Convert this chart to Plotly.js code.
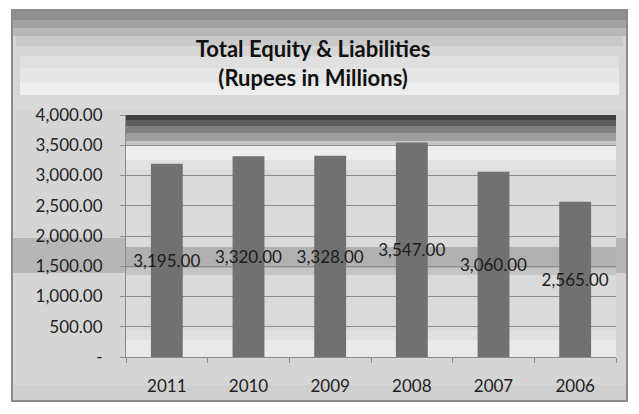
<!DOCTYPE html>
<html>
<head>
<meta charset="utf-8">
<script src="https://cdn.plot.ly/plotly-3.0.1.min.js"></script>
<style>html,body{margin:0;padding:0;background:#fff;}#chart{width:639px;height:414px;}</style>
</head>
<body>
<div id="chart"></div>
<script>
const years = ["2011", "2010", "2009", "2008", "2007", "2006"];
const totals = [3195, 3320, 3328, 3547, 3060, 2565];
const tickValues = [0, 500, 1000, 1500, 2000, 2500, 3000, 3500, 4000];
const tickLabels = ["-", "500.00", "1,000.00", "1,500.00", "2,000.00", "2,500.00", "3,000.00", "3,500.00", "4,000.00"];

// pixel helpers for decorative background bands (paper coordinates)
const L = 126, R = 616, T = 115, B = 357;
const px = v => (v - L) / (R - L);
const py = v => (B - v) / (B - T);
function band(x0, y0, x1, y1, color) {
  return {type: 'rect', xref: 'paper', yref: 'paper', layer: 'below',
    x0: px(x0), x1: px(x1), y0: py(y1), y1: py(y0), fillcolor: color, line: {width: 0}};
}
const shapes = [
  {type: 'rect', xref: 'paper', yref: 'paper', layer: 'below',
   x0: px(12), x1: px(627), y0: py(401), y1: py(10), fillcolor: '#d5d5d5', line: {color: '#8a8a8a', width: 2}},
  band(13, 11, 626, 20, '#8f8f8f'),
  band(13, 20, 626, 28, '#a3a3a3'),
  band(13, 28, 626, 36, '#b8b8b8'),
  band(16, 36, 623, 46, '#c9c9c9'),
  band(18, 46, 621, 56, '#d6d6d6'),
  band(20, 56, 619, 68, '#dfdfdf'),
  band(20, 68, 619, 82, '#e6e6e6'),
  band(20, 82, 619, 95, '#ededed'),
  band(13, 95, 626, 110, '#d9d9d9'),
  band(13, 238, 626, 273, '#b6b6b6'),
  band(13, 385, 626, 400, '#cfcfcf'),
  // plot area background
  band(126, 115, 616, 357, '#dadada'),
  band(126, 115, 616, 120, '#3f3f3f'),
  band(126, 120, 616, 126, '#5e5e5e'),
  band(126, 126, 616, 133, '#808080'),
  band(126, 133, 616, 141, '#9d9d9d'),
  band(126, 141, 616, 146, '#c6c6c6'),
  band(126, 146, 616, 160, '#eeeeee'),
  band(126, 160, 616, 170, '#e2e2e2'),
  band(126, 247, 616, 268, '#b0b0b0'),
  band(126, 268, 616, 275, '#c4c4c4'),
  band(126, 330, 616, 340, '#e0e0e0'),
  band(126, 340, 616, 357, '#e9e9e9')
];

const trace = {
  type: 'bar',
  x: years,
  y: totals,
  width: 0.39,
  marker: {color: '#717171', line: {width: 0}},
  texttemplate: '%{y:,.2f}',
  textposition: 'inside',
  insidetextanchor: 'middle',
  constraintext: 'none',
  textangle: 0,
  insidetextfont: {family: 'Lato, sans-serif', size: 17, color: '#1c1c1c'},
  hoverinfo: 'x+y'
};

const layout = {
  width: 639, height: 414,
  margin: {l: L, r: 639 - R, t: T, b: 414 - B, pad: 0},
  paper_bgcolor: '#ffffff',
  plot_bgcolor: 'rgba(0,0,0,0)',
  font: {family: 'Lato, sans-serif', size: 17, color: '#222222'},
  title: {
    text: '<b>Total Equity &amp; Liabilities</b><br><b>(Rupees in Millions)</b>',
    font: {family: 'Lato, sans-serif', size: 22, color: '#111111'},
    xref: 'container', yref: 'container', x: 0.49, xanchor: 'center',
    y: 0.862, yanchor: 'middle'
  },
  showlegend: false,
  xaxis: {
    type: 'category',
    showline: true, linecolor: '#8a8a8a', linewidth: 1,
    ticks: 'outside', ticklen: 5, tickcolor: '#8a8a8a', tickson: 'boundaries',
    ticklabelstandoff: 14,
    tickfont: {family: 'Lato, sans-serif', size: 17, color: '#222222'},
    showgrid: false, zeroline: false
  },
  yaxis: {
    range: [0, 4000],
    tickvals: tickValues, ticktext: tickLabels,
    showline: true, linecolor: '#8a8a8a', linewidth: 1,
    ticks: 'outside', ticklen: 5, tickcolor: '#8a8a8a',
    ticklabelstandoff: 14,
    tickfont: {family: 'Lato, sans-serif', size: 17, color: '#222222'},
    showgrid: true, gridcolor: '#8c8c8c', gridwidth: 1,
    zeroline: false
  },
  shapes: shapes
};

Plotly.newPlot('chart', [trace], layout, {displayModeBar: false, staticPlot: true});
</script>
</body>
</html>
